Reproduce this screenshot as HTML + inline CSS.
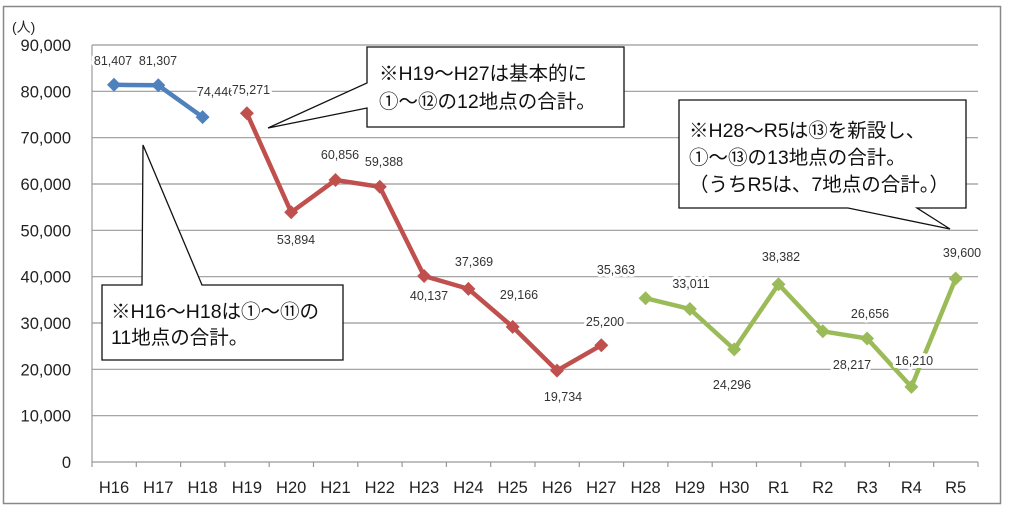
<!DOCTYPE html>
<html><head><meta charset="utf-8"><style>
html,body{margin:0;padding:0;background:#fff;}
svg{display:block;font-family:"Liberation Sans","Noto Sans CJK JP",sans-serif;}
.ax{font-size:16.5px;fill:#222;}
.dl{font-size:12.5px;fill:#333;paint-order:stroke;stroke:#fff;stroke-width:6px;stroke-linejoin:round;}
.co{font-size:19.5px;fill:#111;}
</style></head><body>
<svg width="1009" height="512" viewBox="0 0 1009 512">
<rect x="3.5" y="6.5" width="997" height="497" fill="#fff" stroke="#888" stroke-width="1.5"/>
<g stroke="#999" stroke-width="1.2">
<line x1="92" y1="45" x2="978" y2="45"/>
<line x1="92" y1="91.3" x2="978" y2="91.3"/>
<line x1="92" y1="137.7" x2="978" y2="137.7"/>
<line x1="92" y1="184" x2="978" y2="184"/>
<line x1="92" y1="230.3" x2="978" y2="230.3"/>
<line x1="92" y1="276.7" x2="978" y2="276.7"/>
<line x1="92" y1="323" x2="978" y2="323"/>
<line x1="92" y1="369.3" x2="978" y2="369.3"/>
<line x1="92" y1="415.7" x2="978" y2="415.7"/>
<line x1="92" y1="462" x2="978" y2="462"/>
<line x1="92" y1="45" x2="92" y2="467"/>
</g>
<g stroke="#999" stroke-width="1.2">
<line x1="136.3" y1="462" x2="136.3" y2="467"/><line x1="180.6" y1="462" x2="180.6" y2="467"/><line x1="224.9" y1="462" x2="224.9" y2="467"/><line x1="269.2" y1="462" x2="269.2" y2="467"/><line x1="313.5" y1="462" x2="313.5" y2="467"/><line x1="357.8" y1="462" x2="357.8" y2="467"/><line x1="402.1" y1="462" x2="402.1" y2="467"/><line x1="446.4" y1="462" x2="446.4" y2="467"/><line x1="490.7" y1="462" x2="490.7" y2="467"/><line x1="535" y1="462" x2="535" y2="467"/><line x1="579.3" y1="462" x2="579.3" y2="467"/><line x1="623.6" y1="462" x2="623.6" y2="467"/><line x1="667.9" y1="462" x2="667.9" y2="467"/><line x1="712.2" y1="462" x2="712.2" y2="467"/><line x1="756.5" y1="462" x2="756.5" y2="467"/><line x1="800.8" y1="462" x2="800.8" y2="467"/><line x1="845.1" y1="462" x2="845.1" y2="467"/><line x1="889.4" y1="462" x2="889.4" y2="467"/><line x1="933.7" y1="462" x2="933.7" y2="467"/><line x1="978" y1="462" x2="978" y2="467"/>
</g>
<g class="ax" text-anchor="end">
<text x="71" y="51">90,000</text><text x="71" y="97.3">80,000</text><text x="71" y="143.7">70,000</text><text x="71" y="190">60,000</text><text x="71" y="236.3">50,000</text><text x="71" y="282.7">40,000</text><text x="71" y="329">30,000</text><text x="71" y="375.3">20,000</text><text x="71" y="421.7">10,000</text><text x="71" y="468">0</text>
</g>
<text x="12" y="32" style="font-size:14px;fill:#222">(人)</text>
<g class="ax" text-anchor="middle">
<text x="114" y="493">H16</text><text x="158.3" y="493">H17</text><text x="202.6" y="493">H18</text><text x="246.9" y="493">H19</text><text x="291.2" y="493">H20</text><text x="335.5" y="493">H21</text><text x="379.8" y="493">H22</text><text x="424.1" y="493">H23</text><text x="468.4" y="493">H24</text><text x="512.7" y="493">H25</text><text x="557" y="493">H26</text><text x="601.3" y="493">H27</text><text x="645.6" y="493">H28</text><text x="689.9" y="493">H29</text><text x="734.2" y="493">H30</text><text x="778.5" y="493">R1</text><text x="822.8" y="493">R2</text><text x="867.1" y="493">R3</text><text x="911.4" y="493">R4</text><text x="955.7" y="493">R5</text>
</g>
<defs><path id="d" d="M0,-7 L7,0 L0,7 L-7,0Z"/></defs>
<polyline fill="none" stroke="#4F81BD" stroke-width="4.5" points="114,84.8 158.3,85.3 202.6,117.1"/>
<g fill="#4F81BD"><use href="#d" x="114" y="84.8"/><use href="#d" x="158.3" y="85.3"/><use href="#d" x="202.6" y="117.1"/></g>
<polyline fill="none" stroke="#C0504D" stroke-width="4.5" points="246.9,113.3 291.2,212.3 335.5,180 379.8,186.8 424.1,276 468.4,288.9 512.7,326.9 557,370.6 601.3,345.2"/>
<g fill="#C0504D"><use href="#d" x="246.9" y="113.3"/><use href="#d" x="291.2" y="212.3"/><use href="#d" x="335.5" y="180"/><use href="#d" x="379.8" y="186.8"/><use href="#d" x="424.1" y="276"/><use href="#d" x="468.4" y="288.9"/><use href="#d" x="512.7" y="326.9"/><use href="#d" x="557" y="370.6"/><use href="#d" x="601.3" y="345.2"/></g>
<polyline fill="none" stroke="#9BBB59" stroke-width="4.5" points="645.6,298.2 689.9,309 734.2,349.4 778.5,284.2 822.8,331.3 867.1,338.5 911.4,386.9 955.7,278.5"/>
<g fill="#9BBB59"><use href="#d" x="645.6" y="298.2"/><use href="#d" x="689.9" y="309"/><use href="#d" x="734.2" y="349.4"/><use href="#d" x="778.5" y="284.2"/><use href="#d" x="822.8" y="331.3"/><use href="#d" x="867.1" y="338.5"/><use href="#d" x="911.4" y="386.9"/><use href="#d" x="955.7" y="278.5"/></g>
<g class="dl" text-anchor="middle">
<text x="113" y="65">81,407</text><text x="158" y="65">81,307</text><text x="216" y="96">74,446</text><text x="251" y="94">75,271</text>
<text x="296" y="244">53,894</text><text x="340" y="159">60,856</text><text x="384" y="166">59,388</text><text x="429" y="300">40,137</text><text x="474" y="266">37,369</text><text x="519" y="299">29,166</text><text x="563" y="401">19,734</text><text x="605" y="326">25,200</text>
<text x="616" y="274">35,363</text><text x="691" y="288">33,011</text><text x="732" y="389">24,296</text><text x="781" y="261">38,382</text><text x="852" y="369">28,217</text><text x="870" y="318">26,656</text><text x="914" y="365">16,210</text><text x="962" y="257">39,600</text>
</g>
<g fill="#fff" stroke="#111" stroke-width="1.3">
<path d="M367,47 L624,47 L624,127 L367,127 L367,108 L268,128 L367,83 Z"/>
<path d="M679,100 L966,100 L966,208 L917,208 L950,229 L848,208 L679,208 Z"/>
<path d="M102,285 L142,285 L143,145 L202,285 L343,285 L343,360 L102,360 Z"/>
</g>
<g class="co">
<text x="379" y="80">※H19～H27は基本的に</text><text x="379" y="108">①～⑫の12地点の合計。</text>
<text x="689" y="137">※H28～R5は⑬を新設し、</text><text x="689" y="164">①～⑬の13地点の合計。</text><text x="689" y="191">（うちR5は、7地点の合計。）</text>
<text x="111" y="318">※H16～H18は①～⑪の</text><text x="111" y="344">11地点の合計。</text>
</g>
</svg>
</body></html>
